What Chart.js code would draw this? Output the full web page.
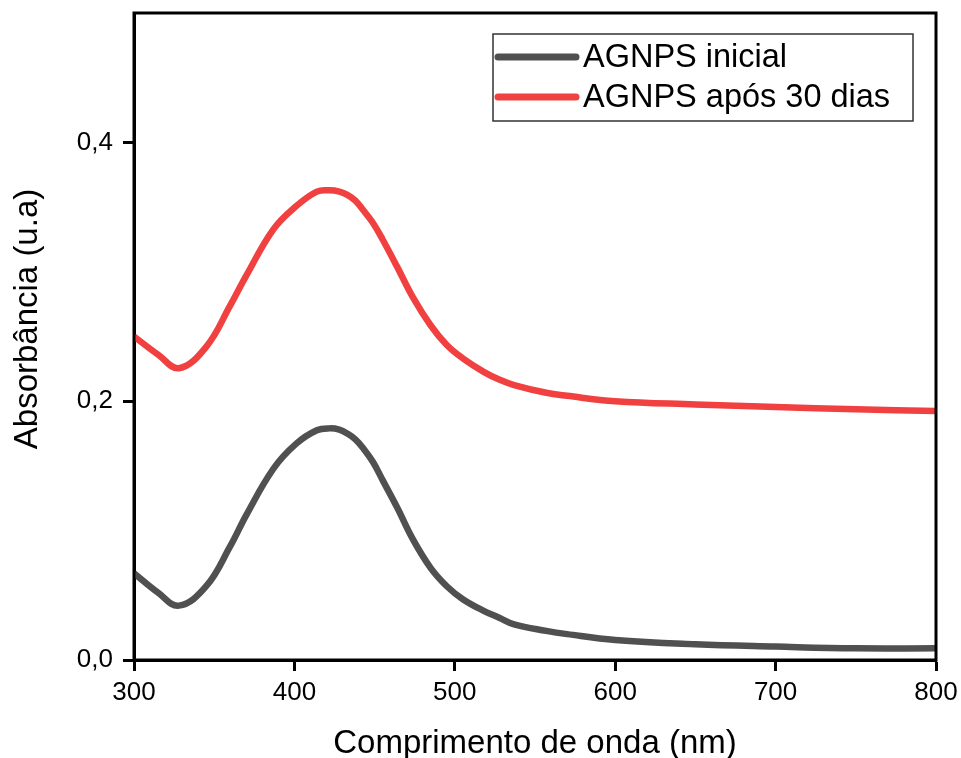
<!DOCTYPE html>
<html>
<head>
<meta charset="utf-8">
<script src="https://cdn.jsdelivr.net/npm/chart.js@4/dist/chart.umd.min.js"></script>
<style>
  html, body { margin: 0; padding: 0; background: #fff; }
  #wrap { width: 961px; height: 758px; }
</style>
</head>
<body>
<div id="wrap"><canvas id="uvChart" width="961" height="758"></canvas></div>
<script>
// Wavelengths (nm)
const wavelengths = [300, 315, 328, 345, 360, 370, 387, 401, 414, 422, 428, 433, 438, 443, 449, 455, 464, 474, 485, 495, 505, 518, 528, 537, 557, 570, 600, 650, 700, 750, 800];
// AGNPS inicial
const absInicial = [0.067, 0.052, 0.042, 0.057, 0.088, 0.112, 0.148, 0.167, 0.1775, 0.179, 0.178, 0.175, 0.1705, 0.1635, 0.153, 0.139, 0.118, 0.093, 0.071, 0.057, 0.047, 0.038, 0.0325, 0.0275, 0.0225, 0.020, 0.0155, 0.0122, 0.0104, 0.009, 0.009];
// AGNPS após 30 dias
const abs30Dias = [0.250, 0.236, 0.2255, 0.242, 0.274, 0.297, 0.333, 0.3506, 0.362, 0.363, 0.362, 0.3595, 0.355, 0.3475, 0.3377, 0.325, 0.304, 0.280, 0.2585, 0.2434, 0.2331, 0.2227, 0.2165, 0.2125, 0.2065, 0.2042, 0.200, 0.1975, 0.1955, 0.1937, 0.1925];

const seriesLabels = ['AGNPS inicial', 'AGNPS após 30 dias'];
const seriesColors = ['#505050', '#f04040'];
const xTicks = [300, 400, 500, 600, 700, 800];
const yTicks = [0, 0.2, 0.4];

const FONT = "'Liberation Sans', Arial, sans-serif";

function toPoints(values) {
  return wavelengths.map((w, i) => ({ x: w, y: values[i] }));
}

// frame + y title + boxed legend inside the plot
const extras = {
  id: 'extras',
  afterDraw(chart) {
    const { ctx, chartArea } = chart;
    ctx.save();
    ctx.strokeStyle = '#000';
    ctx.lineWidth = 3;
    ctx.strokeRect(chartArea.left, chartArea.top, chartArea.right - chartArea.left, chartArea.bottom - chartArea.top);

    // y axis title
    ctx.translate(28, 319);
    ctx.rotate(-Math.PI / 2);
    ctx.fillStyle = '#000';
    ctx.font = '33px ' + FONT;
    ctx.textAlign = 'center';
    ctx.textBaseline = 'middle';
    ctx.fillText('Absorbância (u.a)', 0, 0);
    ctx.restore();

    // legend
    ctx.save();
    const boxW = 420, boxH = 87;
    const bx = chartArea.right - 23 - boxW;
    const by = chartArea.top + 21;
    ctx.fillStyle = '#fff';
    ctx.fillRect(bx, by, boxW, boxH);
    ctx.strokeStyle = '#333';
    ctx.lineWidth = 1.5;
    ctx.strokeRect(bx, by, boxW, boxH);
    ctx.font = '32.5px ' + FONT;
    ctx.textBaseline = 'middle';
    ctx.textAlign = 'left';
    chart.data.datasets.forEach((ds, i) => {
      const ly = by + 23 + i * 40;
      ctx.strokeStyle = ds.borderColor;
      ctx.lineWidth = 7;
      ctx.lineCap = 'round';
      ctx.beginPath();
      ctx.moveTo(bx + 5, ly);
      ctx.lineTo(bx + 83, ly);
      ctx.stroke();
      ctx.fillStyle = '#000';
      ctx.fillText(ds.label, bx + 90, ly + 1);
    });
    ctx.restore();
  }
};

const ctx = document.getElementById('uvChart').getContext('2d');
const chart = new Chart(ctx, {
  type: 'line',
  data: {
    datasets: [
      { label: seriesLabels[0], data: toPoints(absInicial), borderColor: seriesColors[0] },
      { label: seriesLabels[1], data: toPoints(abs30Dias), borderColor: seriesColors[1] }
    ]
  },
  options: {
    responsive: false,
    animation: false,
    layout: { padding: { top: 13, right: 25, left: 0, bottom: 0 } },
    elements: {
      point: { radius: 0 },
      line: { borderWidth: 6.5, tension: 0.4, fill: false, borderCapStyle: 'butt' }
    },
    plugins: {
      legend: { display: false },
      tooltip: { enabled: false }
    },
    scales: {
      x: {
        type: 'linear',
        min: 300,
        max: 800,
        afterBuildTicks: (scale) => { scale.ticks = xTicks.map(v => ({ value: v })); },
        afterFit: (scale) => {
          scale.height = 98;
          scale.paddingLeft = 0;
          scale.paddingRight = 0;
        },
        border: { display: true, color: '#000', width: 3 },
        grid: { display: true, drawOnChartArea: false, drawTicks: true, tickLength: 11, tickColor: '#000', tickWidth: 3 },
        ticks: { color: '#000', font: { family: FONT, size: 26 }, padding: 6, maxRotation: 0 },
        title: {
          display: true,
          text: 'Comprimento de onda (nm)',
          color: '#000',
          font: { family: FONT, size: 33, lineHeight: 1 },
          padding: { top: 0, bottom: -2 }
        }
      },
      y: {
        min: 0,
        max: 0.5,
        afterBuildTicks: (scale) => { scale.ticks = yTicks.map(v => ({ value: v })); },
        afterFit: (scale) => {
          scale.width = 134;
          scale.paddingTop = 0;
          scale.paddingBottom = 0;
        },
        border: { display: true, color: '#000', width: 3 },
        grid: { display: true, drawOnChartArea: false, drawTicks: true, tickLength: 11, tickColor: '#000', tickWidth: 3 },
        ticks: {
          color: '#000',
          font: { family: FONT, size: 26 },
          padding: 10,
          callback: (v) => v.toFixed(1).replace('.', ',')
        }
      }
    }
  },
  plugins: [extras]
});
</script>
</body>
</html>
